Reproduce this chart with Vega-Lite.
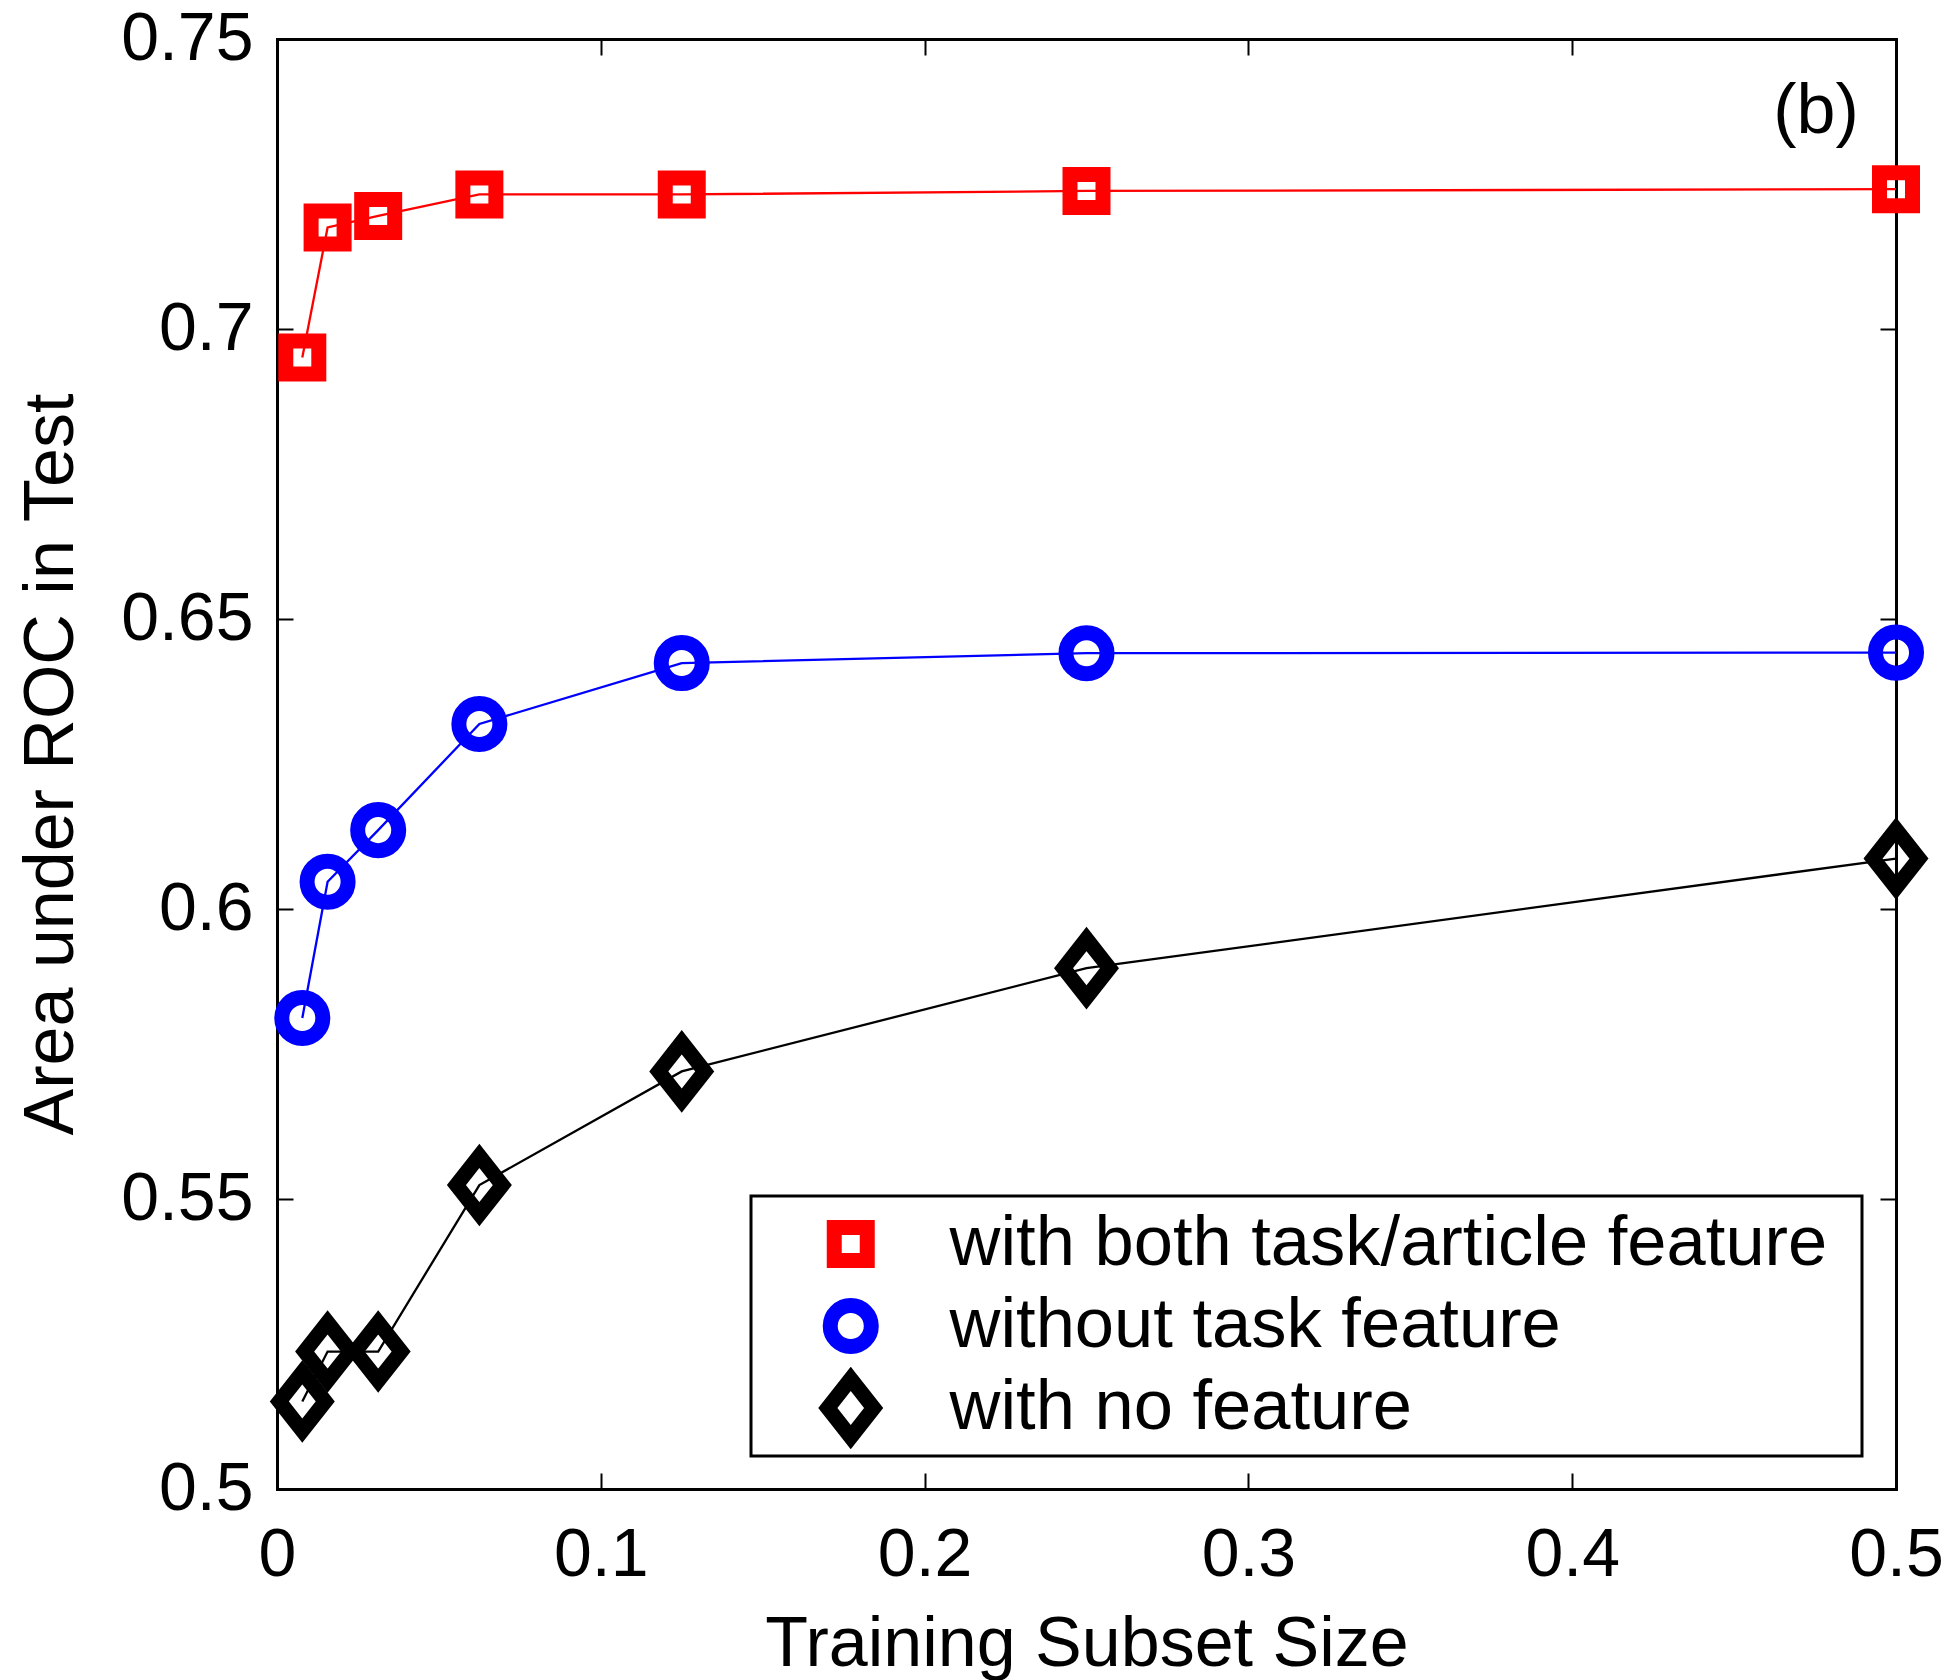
{
  "$schema": "https://vega.github.io/schema/vega-lite/v6.json",
  "width": 1619,
  "height": 1450,
  "autosize": {"type": "none"},
  "padding": {"left": 277, "top": 39, "right": 55, "bottom": 191},
  "background": "white",
  "config": {
    "view": {"stroke": null},
    "font": "Liberation Sans",
    "axis": {
      "domainColor": "black", "domainWidth": 3, "tickColor": "black", "tickWidth": 2, "tickSize": -16,
      "grid": false, "labelFont": "Liberation Sans", "labelFontSize": 68, "labelColor": "black",
      "labelFlush": false, "labelOverlap": false, "labelBound": false,
      "titleFont": "Liberation Sans", "titleFontSize": 70, "titleFontWeight": "normal", "titleColor": "black",
      "zindex": 1, "domainCap": "square"
    },
    "legend": {
      "labelFont": "Liberation Sans", "labelFontSize": 70.5, "labelColor": "black", "labelLimit": 0,
      "strokeColor": "black", "strokeWidth": 3, "fillColor": "white", "padding": 7,
      "symbolSize": 2916, "symbolStrokeWidth": 15, "symbolOffset": 57.5, "labelOffset": 63.5, "rowPadding": 0,
      "clipHeight": 82,
      "titleOrient": "right", "titlePadding": 27.5, "titleFontSize": 70, "titleFont": "Liberation Sans"
    }
  },
  "datasets": {
    "main": [
      {"size": 0.0078125, "auc": 0.6951, "series": "with both task/article feature"},
      {"size": 0.015625, "auc": 0.7175, "series": "with both task/article feature"},
      {"size": 0.03125, "auc": 0.7195, "series": "with both task/article feature"},
      {"size": 0.0625, "auc": 0.7232, "series": "with both task/article feature"},
      {"size": 0.125, "auc": 0.7232, "series": "with both task/article feature"},
      {"size": 0.25, "auc": 0.7238, "series": "with both task/article feature"},
      {"size": 0.5, "auc": 0.7241, "series": "with both task/article feature"},
      {"size": 0.0078125, "auc": 0.5812, "series": "without task feature"},
      {"size": 0.015625, "auc": 0.6047, "series": "without task feature"},
      {"size": 0.03125, "auc": 0.6136, "series": "without task feature"},
      {"size": 0.0625, "auc": 0.6319, "series": "without task feature"},
      {"size": 0.125, "auc": 0.6424, "series": "without task feature"},
      {"size": 0.25, "auc": 0.6441, "series": "without task feature"},
      {"size": 0.5, "auc": 0.6442, "series": "without task feature"},
      {"size": 0.0078125, "auc": 0.5151, "series": "with no feature"},
      {"size": 0.015625, "auc": 0.5237, "series": "with no feature"},
      {"size": 0.03125, "auc": 0.5237, "series": "with no feature"},
      {"size": 0.0625, "auc": 0.5524, "series": "with no feature"},
      {"size": 0.125, "auc": 0.5720, "series": "with no feature"},
      {"size": 0.25, "auc": 0.5898, "series": "with no feature"},
      {"size": 0.5, "auc": 0.6087, "series": "with no feature"}
    ]
  },
  "layer": [
    {
      "data": {"name": "main"},
      "mark": {"type": "line", "strokeWidth": 2.3},
      "encoding": {
        "x": {
          "field": "size", "type": "quantitative",
          "scale": {"domain": [0, 0.5], "nice": false, "zero": false},
          "axis": {
            "orient": "bottom", "values": [0, 0.1, 0.2, 0.3, 0.4, 0.5], "format": "~g", "labelPadding": 48,
            "title": "Training Subset Size", "titleX": 809.5, "titleY": 176, "titleBaseline": "alphabetic", "titleAlign": "center"
          }
        },
        "y": {
          "field": "auc", "type": "quantitative",
          "scale": {"domain": [0.5, 0.75], "nice": false, "zero": false},
          "axis": {
            "orient": "left", "values": [0.5, 0.55, 0.6, 0.65, 0.7, 0.75], "format": "~g", "labelPadding": 40,
            "title": "Area under ROC in Test", "titleX": -205, "titleY": 725, "titleAngle": -90,
            "titleAlign": "center", "titleBaseline": "alphabetic"
          }
        },
        "color": {
          "field": "series", "type": "nominal",
          "scale": {"domain": ["with both task/article feature", "without task feature", "with no feature"], "range": ["#ff0000", "#0000ff", "#000000"]},
          "legend": {"orient": "none", "legendX": 474, "legendY": 1157, "title": " "}
        }
      }
    },
    {
      "data": {"name": "main"},
      "mark": {"type": "point", "filled": false, "strokeWidth": 15, "size": 2916, "opacity": 1, "strokeJoin": "miter", "strokeMiterLimit": 10},
      "encoding": {
        "x": {
          "field": "size", "type": "quantitative",
          "axis": {"orient": "top", "values": [0, 0.1, 0.2, 0.3, 0.4, 0.5], "labels": false, "title": null}
        },
        "y": {
          "field": "auc", "type": "quantitative",
          "axis": {"orient": "right", "values": [0.5, 0.55, 0.6, 0.65, 0.7, 0.75], "labels": false, "title": null}
        },
        "color": {
          "field": "series", "type": "nominal",
          "legend": {"orient": "none", "legendX": 474, "legendY": 1157, "title": " "}
        },
        "shape": {
          "field": "series", "type": "nominal",
          "scale": {
            "domain": ["with both task/article feature", "without task feature", "with no feature"],
            "range": [
              "M-0.611,-0.611L0.611,-0.611L0.611,0.611L-0.611,0.611Z",
              "M0.76,0A0.76,0.76 0 1,1 -0.76,0A0.76,0.76 0 1,1 0.76,0Z",
              "M0,-1.08L0.85,0L0,1.08L-0.85,0Z"
            ]
          },
          "legend": {"orient": "none", "legendX": 474, "legendY": 1157, "title": " "}
        }
      }
    },
    {
      "data": {"values": [{"label": "(b)"}]},
      "mark": {"type": "text", "fontSize": 70, "align": "center", "baseline": "alphabetic", "color": "black", "font": "Liberation Sans"},
      "encoding": {
        "x": {"datum": 0.4753, "type": "quantitative", "axis": null},
        "y": {"datum": 0.7338, "type": "quantitative", "axis": null},
        "text": {"field": "label"}
      }
    }
  ],
  "resolve": {"axis": {"x": "independent", "y": "independent"}}
}
